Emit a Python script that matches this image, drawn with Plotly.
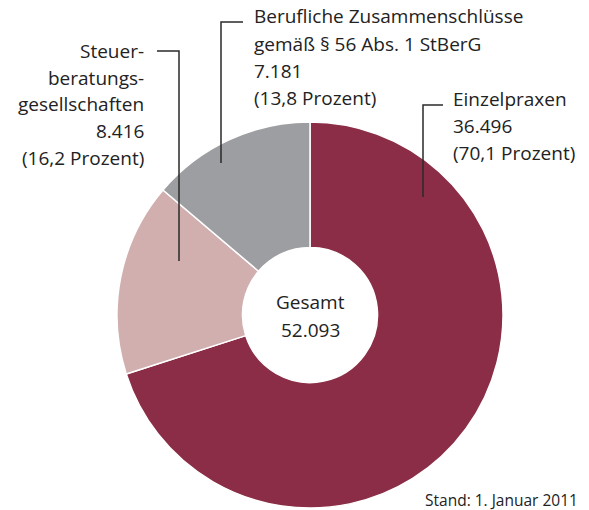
import plotly.graph_objects as go

categories = ["Einzelpraxen", "Steuerberatungsgesellschaften", "Berufliche Zusammenschlüsse gemäß § 56 Abs. 1 StBerG"]
values = [36496, 8416, 7181]
percent_labels = ["70,1", "16,2", "13,8"]
value_labels = ["36.496", "8.416", "7.181"]
colors = ["#8B2D46", "#D1AFAF", "#9D9EA2"]
total_label = "52.093"

W, H = 589, 510
CX, CY, R = 310, 315, 193

def px(x):
    return x / W

def py(y):
    return 1 - y / H

fig = go.Figure()
fig.add_trace(go.Pie(
    values=values,
    labels=categories,
    marker=dict(colors=colors, line=dict(color="white", width=1.5)),
    hole=0.35,
    sort=False,
    direction="clockwise",
    rotation=0,
    textinfo="none",
    hoverinfo="label+value+percent",
    showlegend=False,
    domain=dict(x=[px(CX - R), px(CX + R)], y=[py(CY + R), py(CY - R)]),
))

font = dict(family="Open Sans, Noto Sans, sans-serif", size=19, color="#222222")

blocks = [
    (146, "right", [51, 78, 104, 131, 158],
     ["Steuer-", "beratungs-", "gesellschaften", value_labels[1], f"({percent_labels[1]} Prozent)"]),
    (252, "left", [16, 44, 71, 98],
     ["Berufliche Zusammenschlüsse", "gemäß § 56 Abs. 1 StBerG", value_labels[2], f"({percent_labels[2]} Prozent)"]),
    (451, "left", [99, 126, 153],
     ["Einzelpraxen", value_labels[0], f"({percent_labels[0]} Prozent)"]),
    (CX, "center", [302, 330], ["Gesamt", total_label]),
]
for x, anchor, ys, lines in blocks:
    for y, t in zip(ys, lines):
        fig.add_annotation(x=px(x), y=py(y), xref="paper", yref="paper", showarrow=False,
                           xanchor=anchor, yanchor="middle", text=t, font=font)

fig.add_annotation(x=px(580), y=py(500), xref="paper", yref="paper", showarrow=False,
                   xanchor="right", yanchor="middle", text="Stand: 1. Januar 2011",
                   font=dict(family="Open Sans, Noto Sans, sans-serif", size=15.5, color="#222222"))

leaders = [
    [(157, 51), (179, 51), (179, 261)],
    [(243, 22), (221, 22), (221, 163)],
    [(443, 105), (423, 105), (423, 197)],
]
for pts in leaders:
    path = "M " + " L ".join(f"{px(x)},{py(y)}" for x, y in pts)
    fig.add_shape(type="path", path=path, xref="paper", yref="paper",
                  line=dict(color="#2a2a2a", width=1.5))

fig.update_layout(width=W, height=H, margin=dict(l=0, r=0, t=0, b=0),
                  paper_bgcolor="white", plot_bgcolor="white")
fig.write_html("out.html")
